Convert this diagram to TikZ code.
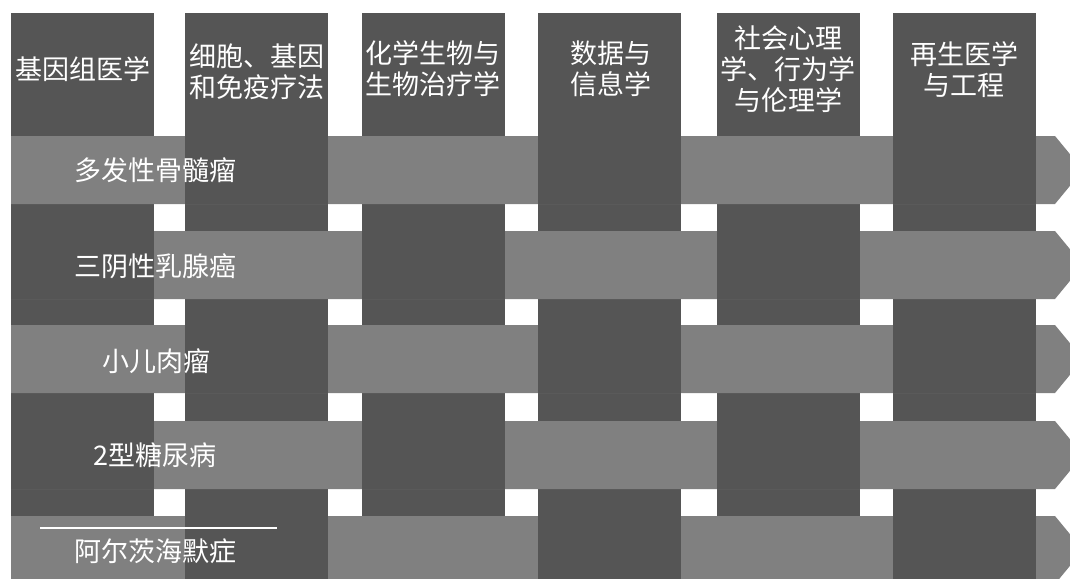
\documentclass[tikz,border=0pt]{standalone}
\usepackage{fontspec}
\setmainfont{Noto Sans CJK SC}
\definecolor{colgray}{RGB}{85,85,85}
\definecolor{bandgray}{RGB}{128,128,128}
\begin{document}
\begin{tikzpicture}[x=1pt,y=-1pt,
  colbox/.style={fill=colgray,draw=none},
  bandbox/.style={fill=bandgray,draw=none},
  collabel/.style={text=white,font=\fontsize{27}{31}\selectfont,align=center,inner sep=0pt},
  bandlabel/.style={text=white,font=\fontsize{27}{31}\selectfont,inner sep=0pt},
  rule/.style={draw=white,line width=1.8pt}]
\useasboundingbox (0,0) rectangle (1070,578);
\clip (0,0) rectangle (1070,578);
\fill[white] (0,0) rectangle (1070,578);
% columns
\foreach \x in {11,185,362,538,717,893}
  \fill[colbox] (\x,13) rectangle (\x+143,595);
% bands (arrows)
\foreach \t in {136,231,325,421,516}
  \fill[bandbox] (11,\t) -- (1055,\t) -- (1083,\t+34) -- (1055,\t+68) -- (11,\t+68) -- cycle;
% weave: columns passing over bands
\foreach \t in {136,325,516}
  \foreach \x in {185,538,893}
    \fill[colbox] (\x,\t) rectangle (\x+143,\t+68);
\foreach \t in {231,421}
  \foreach \x in {11,362,717}
    \fill[colbox] (\x,\t) rectangle (\x+143,\t+68);
% column labels
\node[collabel] (l1) at (83,69) {基因组医学};
\node[collabel] (l2) at (257,72) {细胞、基因\\和免疫疗法};
\node[collabel] (l3) at (433,69) {化学生物与\\生物治疗学};
\node[collabel] (l4) at (611,69) {数据与\\信息学};
\node[collabel] (l5) at (788,69) {社会心理\\学、行为学\\与伦理学};
\node[collabel] (l6) at (964,70) {再生医学\\与工程};
% band labels
\node[bandlabel] (b1) at (155,170) {多发性骨髓瘤};
\node[bandlabel] (b2) at (155,266) {三阴性乳腺癌};
\node[bandlabel] (b3) at (156,361) {小儿肉瘤};
\node[bandlabel] (b4) at (155,455) {2型糖尿病};
\node[bandlabel] (b5) at (155,551) {阿尔茨海默症};
\coordinate (r1) at (40,528);
\coordinate (r2) at (277,528);
\draw[rule] (r1) -- (r2);
\end{tikzpicture}
\end{document}
